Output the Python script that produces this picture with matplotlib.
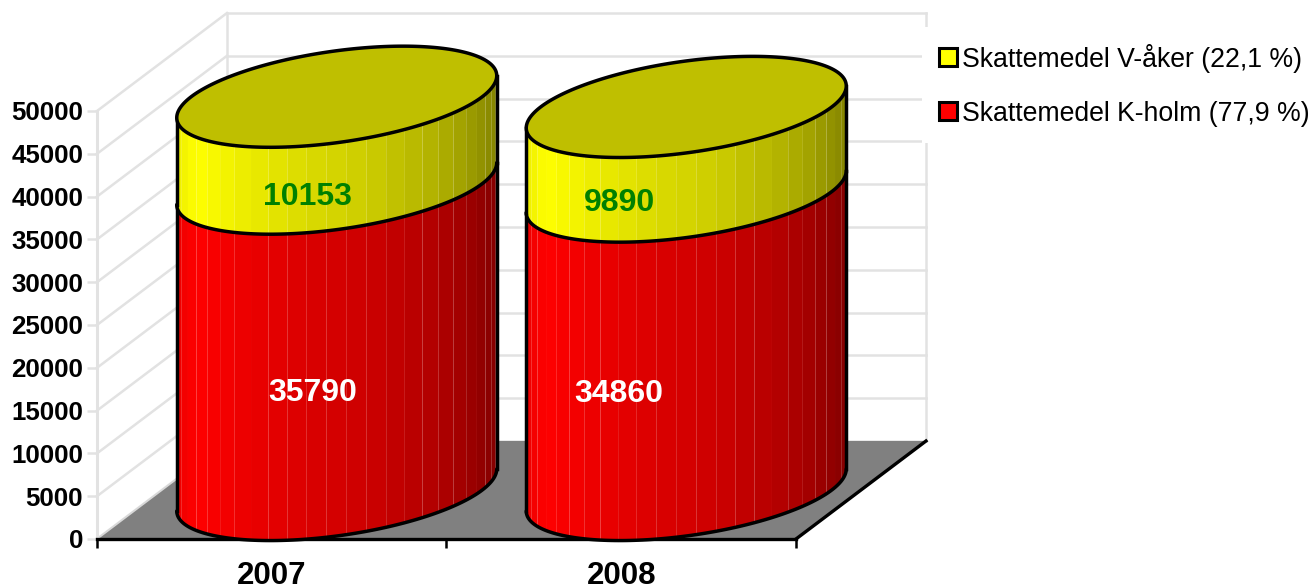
import numpy as np
import matplotlib
matplotlib.use("Agg")
import matplotlib.pyplot as plt
from matplotlib.patches import Patch, Polygon

plt.rcParams['font.family'] = ['Liberation Sans', 'DejaVu Sans']

# data
years = ['2007', '2008']
kholm = [35790, 34860]
vaker = [10153, 9890]
y_ticks = [0, 5000, 10000, 15000, 20000, 25000, 30000, 35000, 40000, 45000, 50000]
legend_labels = ['Skattemedel V-åker (22,1 %)', 'Skattemedel K-holm (77,9 %)']

# label shift from the middle of each segment, in pixels
kholm_shift = [(-24, -7), (-67, -4)]
vaker_shift = [(-29, -8), (-67, -5)]

W, H = 1315, 588
LEFT, RIGHT, BASE, TOP = 97, 796, 539, 111

fig = plt.figure(figsize=(W / 100, H / 100), dpi=100)
ax = fig.add_axes([LEFT / W, 1 - BASE / H, (RIGHT - LEFT) / W, (BASE - TOP) / H])
ax.set_xlim(0, len(years))
ax.set_ylim(0, 50000)
ax.patch.set_visible(False)

# pixel sizes turned into data units
px_x = len(years) / (RIGHT - LEFT)
px_y = 50000 / (BASE - TOP)
depth_x = 130 * px_x
depth_y = 98 * px_y

GRID = '#e2e2e2'
x_end = len(years)

# walls
for v in y_ticks:
    ax.plot([0, depth_x], [v, v + depth_y], color=GRID, lw=1.8, clip_on=False, zorder=1)
    ax.plot([depth_x, x_end + depth_x], [v + depth_y, v + depth_y], color=GRID, lw=1.8,
            clip_on=False, zorder=1)
ax.plot([depth_x, depth_x], [depth_y, 50000 + depth_y], color=GRID, lw=1.8, clip_on=False, zorder=1)
ax.plot([x_end + depth_x] * 2, [depth_y, 50000 + depth_y], color=GRID, lw=1.8, clip_on=False, zorder=1)

# floor
ax.add_patch(Polygon([(0, 0), (x_end, 0), (x_end + depth_x, depth_y), (depth_x, depth_y)],
                     closed=True, fc='#808080', ec='none', clip_on=False, zorder=1.5))
ax.plot([x_end, x_end + depth_x], [0, depth_y], color='black', lw=2.4, clip_on=False, zorder=2)
ax.plot([0, depth_x], [0, depth_y], color='#d8d8d8', lw=1.2, clip_on=False, zorder=2)

# axes
for side in ['top', 'right']:
    ax.spines[side].set_visible(False)
ax.spines['left'].set_color(GRID)
ax.spines['left'].set_linewidth(2.2)
ax.spines['bottom'].set_linewidth(2.4)
ax.set_yticks(y_ticks)
ax.tick_params(axis='y', length=7, width=1.8, color=GRID, pad=3, labelsize=18.6)
ax.set_xticks(range(len(years) + 1))
ax.set_xticklabels([])
ax.set_xticks([i + 0.5 for i in range(len(years))], minor=True)
ax.set_xticklabels(years, minor=True, fontsize=22.5, fontweight='bold')
ax.tick_params(axis='x', which='major', length=6.5, width=1.8, color='black')
ax.tick_params(axis='x', which='minor', length=0, pad=15.5)
for lab in ax.get_yticklabels():
    lab.set_fontweight('bold')

# cylinder shape and shading
half_w = 160 * px_x
tilt = 21 * px_y
half_h = 46 * px_y
angles = np.linspace(0, np.pi, 26)
shade_at = [0.0, 0.06, 0.2, 0.4, 0.6, 0.8, 0.9, 1.0]
shade_val = [0.93, 1.0, 0.93, 0.86, 0.8, 0.7, 0.63, 0.52]


def ring(cx, v, t):
    return cx + half_w * np.cos(t), v + depth_y / 2 + tilt * np.cos(t) - half_h * np.sin(t)


def draw_side(cx, v0, v1, base_col, z):
    # light layer under the strips, it shows through as thin seams
    t = np.linspace(0, np.pi, 120)
    x0, y0 = ring(cx, v0, t)
    x1, y1 = ring(cx, v1, t[::-1])
    ax.fill(np.r_[x0, x1], np.r_[y0, y1], fc='white', ec='none', lw=0, clip_on=False, zorder=z - 0.1)
    for a, b in zip(angles[:-1], angles[1:]):
        ts = np.linspace(a, b, 6)
        xa, ya = ring(cx, v0, ts)
        xb, yb = ring(cx, v1, ts[::-1])
        f = 1 - (1 - np.cos((a + b) / 2)) / 2
        s = np.interp(f, shade_at, shade_val)
        col = tuple(c * s for c in base_col)
        ax.fill(np.r_[xa, xb], np.r_[ya, yb], fc=col, ec='none', lw=0, clip_on=False, zorder=z)
    ax.plot(x0, y0, color='black', lw=2.5, clip_on=False, zorder=z + 0.1, solid_capstyle='round')
    for t_edge in (0, np.pi):
        xe0, ye0 = ring(cx, v0, t_edge)
        xe1, ye1 = ring(cx, v1, t_edge)
        ax.plot([xe0, xe1], [ye0, ye1], color='black', lw=2.5, clip_on=False, zorder=z + 0.1)


for i, year in enumerate(years):
    cx = i + 0.5 + depth_x / 2
    low = kholm[i]
    high = kholm[i] + vaker[i]
    draw_side(cx, 0, low, (1, 0, 0), 3)
    draw_side(cx, low, high, (1, 1, 0), 4)
    t = np.linspace(0, 2 * np.pi, 240)
    xt, yt = ring(cx, high, t)
    ax.fill(xt, yt, fc='#bfbf00', ec='black', lw=2.5, clip_on=False, zorder=5)
    ax.annotate(str(kholm[i]), (cx, low / 2), xytext=kholm_shift[i], textcoords='offset pixels',
                ha='center', va='center', color='white', fontsize=23, fontweight='bold', zorder=6)
    ax.annotate(str(vaker[i]), (cx, low + vaker[i] / 2), xytext=vaker_shift[i], textcoords='offset pixels',
                ha='center', va='center', color='#008000', fontsize=23, fontweight='bold', zorder=6)

# legend
handles = [Patch(fc='#ffff00', ec='black', lw=2.2), Patch(fc='#ff0000', ec='black', lw=2.2)]
leg = ax.legend(handles, legend_labels, loc='upper left', bbox_to_anchor=(922 / W, 1 - 27 / H),
                bbox_transform=fig.transFigure, frameon=True, fancybox=False, framealpha=1,
                facecolor='white', edgecolor='none', fontsize=19.2, labelspacing=1.05,
                handlelength=0.675, handleheight=0.675, handletextpad=0.22, borderpad=0.62,
                borderaxespad=0)

fig.savefig('out.png', dpi=100)
